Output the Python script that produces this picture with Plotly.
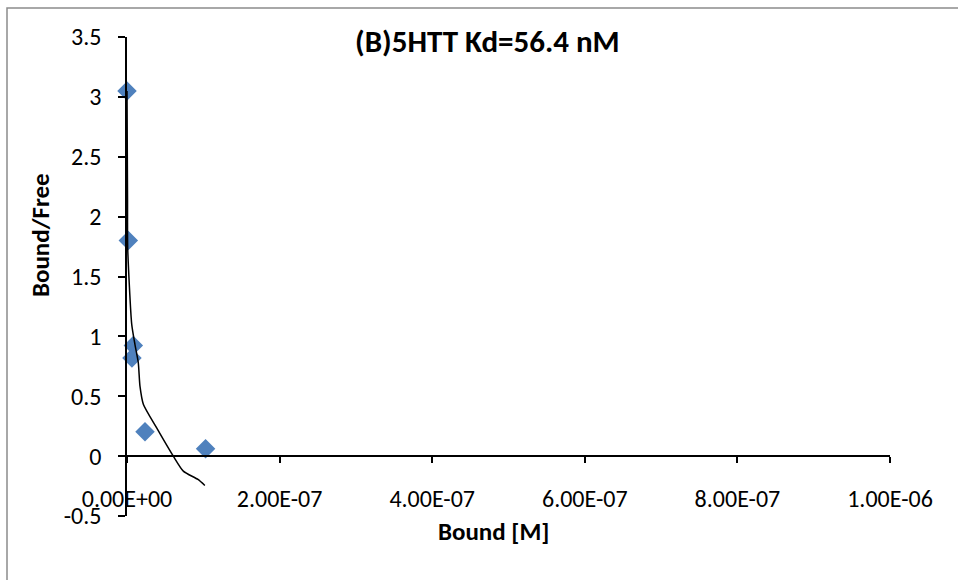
import plotly.graph_objects as go

# Scatchard data: bound ligand [M] vs bound/free ratio
bound = [0.0, 1.7e-9, 8.3e-9, 6.5e-9, 23.6e-9, 103e-9]
bound_free = [3.05, 1.80, 0.924, 0.82, 0.203, 0.061]

# Fitted curve
fit_bound = [0.0, 0.7e-9, 0.9e-9, 6.2e-9, 10.5e-9, 14.8e-9, 17e-9, 21.4e-9,
             38.9e-9, 60.7e-9, 73.8e-9, 93e-9, 102e-9]
fit_ratio = [3.05, 2.13, 1.74, 1.10, 0.93, 0.78, 0.584, 0.434,
             0.236, 0.0, -0.125, -0.195, -0.245]

x_ticks = [0, 2e-7, 4e-7, 6e-7, 8e-7, 1e-6]
x_tick_labels = ["0.00E+00", "2.00E-07", "4.00E-07", "6.00E-07", "8.00E-07", "1.00E-06"]
y_ticks = [-0.5, 0, 0.5, 1, 1.5, 2, 2.5, 3, 3.5]
y_tick_labels = ["-0.5", "0", "0.5", "1", "1.5", "2", "2.5", "3", "3.5"]

FONT = "Carlito, Calibri, Lato, sans-serif"

# plot area in pixels
L, R, T, B = 127, 890, 37, 516
PW, PH = R - L, B - T


def px(xp):
    return (xp - L) / PW


def py(yp):
    return (B - yp) / PH


fig = go.Figure()
fig.add_trace(go.Scatter(
    x=bound, y=bound_free, mode="markers",
    marker=dict(symbol="diamond", size=15, color="#4f81bd", line=dict(width=0)),
    cliponaxis=False, showlegend=False,
))
fig.add_trace(go.Scatter(
    x=fit_bound, y=fit_ratio, mode="lines",
    line=dict(color="black", width=1.5, shape="spline", smoothing=0.6),
    cliponaxis=False, showlegend=False,
))

y_min, y_max = -0.5, 3.5
fig.update_layout(
    width=958, height=580,
    margin=dict(l=L, r=958 - R, t=T, b=580 - B),
    paper_bgcolor="white", plot_bgcolor="white",
    font=dict(family=FONT, size=24, color="black"),
    xaxis=dict(
        range=[0, 1e-6], tickvals=x_ticks, ticktext=x_tick_labels,
        anchor="free", position=(0 - y_min) / (y_max - y_min),
        showline=True, linecolor="black", linewidth=1.5,
        ticks="outside", ticklen=6, tickcolor="black", tickwidth=1.5,
        ticklabelstandoff=15, tickfont=dict(size=24),
        showgrid=False, zeroline=False,
    ),
    yaxis=dict(
        range=[y_min, y_max], tickvals=y_ticks, ticktext=y_tick_labels,
        showline=True, linecolor="black", linewidth=1.5,
        ticks="outside", ticklen=7, tickcolor="black", tickwidth=1.5,
        ticklabelstandoff=12, tickfont=dict(size=24),
        showgrid=False, zeroline=False,
    ),
    annotations=[
        dict(text="<b>(B)5HTT Kd=56.4 nM</b>", xref="paper", yref="paper",
             x=px(487), y=py(41), xanchor="center", yanchor="middle",
             showarrow=False, font=dict(size=31, family=FONT)),
        dict(text="<b>Bound [M]</b>", xref="paper", yref="paper",
             x=px(493), y=py(531), xanchor="center", yanchor="middle",
             showarrow=False, font=dict(size=25, family=FONT)),
        dict(text="<b>Bound/Free</b>", xref="paper", yref="paper",
             x=px(40), y=py(235), xanchor="center", yanchor="middle",
             textangle=-90, showarrow=False, font=dict(size=25, family=FONT)),
    ],
    shapes=[
        dict(type="rect", xref="paper", yref="paper",
             x0=px(7), x1=px(1000), y0=py(640), y1=py(8),
             line=dict(color="#8c8c8c", width=1.5), layer="below"),
    ],
)

fig.write_html("out.html")
